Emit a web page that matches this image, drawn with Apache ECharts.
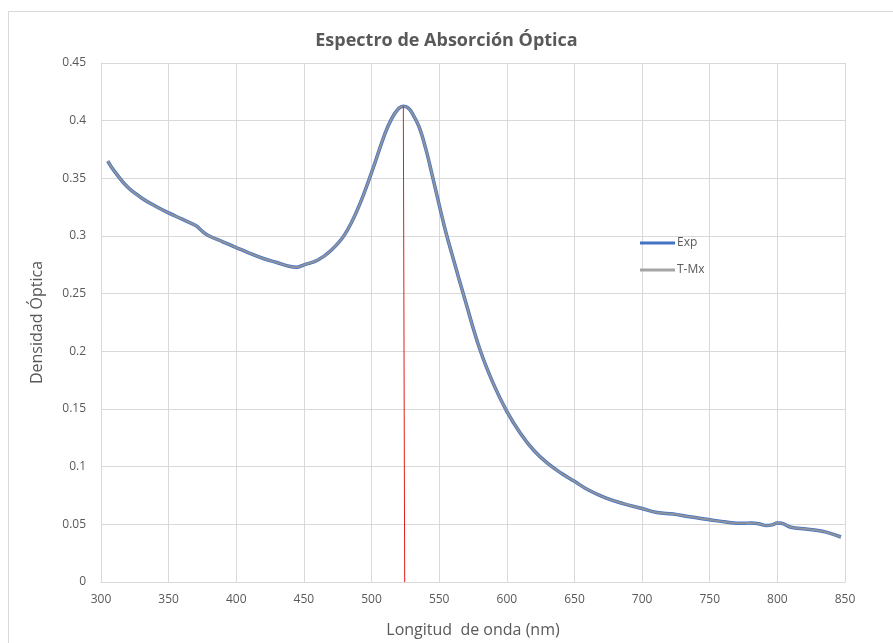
<!DOCTYPE html>
<html>
<head>
    <meta charset="utf-8">
    <title>Espectro de Absorción Óptica</title>
    <script src="https://cdn.jsdelivr.net/npm/echarts@6/dist/echarts.min.js"></script>
</head>
<body style="margin:0;">
    <div id="chart" style="width: 893px; height: 643px;"></div>
    <script type="text/javascript">
        // longitud de onda (nm) y densidad óptica
        var wavelengths = [305, 310, 320, 330, 340, 350, 360, 370, 375, 380, 390, 400, 410, 420, 430, 440, 445, 450, 460, 470,
            480, 490, 500, 510, 515, 520, 523.5, 527, 530, 535, 540, 545, 550, 555, 560, 570,
            580, 590, 600, 610, 620, 630, 640, 650, 660, 673, 686, 700, 711, 723, 735, 750, 762,
            774, 781, 786, 792, 796, 800, 803, 810, 821, 830, 836, 847];
        var expValues = [0.365, 0.356, 0.342, 0.333, 0.326, 0.320, 0.3146, 0.309, 0.304, 0.300, 0.295, 0.290, 0.285, 0.2805, 0.277, 0.2735, 0.273, 0.275, 0.279, 0.2875,
            0.301, 0.324, 0.355, 0.389, 0.402, 0.4105, 0.4126, 0.411, 0.4065, 0.395, 0.376, 0.352, 0.327, 0.303, 0.282, 0.241,
            0.202, 0.172, 0.148, 0.129, 0.114, 0.103, 0.0945, 0.0873, 0.080, 0.073, 0.068, 0.0637, 0.0603, 0.0589, 0.0565, 0.054, 0.052,
            0.0509, 0.0512, 0.0505, 0.0489, 0.0495, 0.0512, 0.051, 0.0475, 0.046, 0.0447, 0.0432, 0.039];
        var tmxValues = expValues.slice();
        // línea roja en el máximo
        var peakLine = [[523.5, 0.4126], [524.5, 0]];

        var toPairs = function (xs, ys) {
            var list = [];
            for (var i = 0; i < xs.length; i++) {
                list.push([xs[i], ys[i]]);
            }
            return list;
        };

        var myChart = echarts.init(document.getElementById('chart'));

        var option = {
            backgroundColor: '#ffffff',
            animation: false,
            title: {
                text: 'Espectro de Absorción Óptica',
                left: 'center',
                top: 27,
                textStyle: { fontFamily: 'Open Sans', fontSize: 18, fontWeight: 'bold', color: '#595959' }
            },
            graphic: [{
                type: 'rect',
                shape: { x: 8.5, y: 11.5, width: 900, height: 700 },
                style: { fill: 'none', stroke: '#d9d9d9', lineWidth: 1 },
                silent: true
            }],
            legend: {
                orient: 'vertical',
                left: 635,
                top: 232,
                itemWidth: 35,
                itemHeight: 3,
                itemGap: 15,
                data: [
                    { name: 'Exp', icon: 'rect', itemStyle: { color: '#4472c4' } },
                    { name: 'T-Mx', icon: 'rect', itemStyle: { color: '#a5a5a5' } }
                ],
                textStyle: { fontFamily: 'Open Sans', fontSize: 12, color: '#595959', padding: [0, 0, 0, -3] }
            },
            grid: { left: 101, right: 48, top: 63, bottom: 52 },
            xAxis: {
                type: 'value',
                min: 300,
                max: 850,
                interval: 50,
                name: 'Longitud  de onda (nm)',
                nameLocation: 'middle',
                nameGap: 40,
                nameTextStyle: { fontFamily: 'Open Sans', fontSize: 16, color: '#595959' },
                axisLine: { lineStyle: { color: '#d9d9d9', width: 1 } },
                axisTick: { show: false },
                axisLabel: { fontFamily: 'Open Sans', fontSize: 12, color: '#595959', margin: 12 },
                splitLine: { show: true, lineStyle: { color: '#d9d9d9', width: 1 } }
            },
            yAxis: {
                type: 'value',
                min: 0,
                max: 0.45,
                interval: 0.05,
                name: 'Densidad Óptica',
                nameLocation: 'middle',
                nameGap: 56,
                nameTextStyle: { fontFamily: 'Open Sans', fontSize: 16, color: '#595959' },
                axisLine: { show: true, lineStyle: { color: '#d9d9d9', width: 1 } },
                axisTick: { show: false },
                axisLabel: {
                    fontFamily: 'Open Sans', fontSize: 12, color: '#595959', margin: 15,
                    formatter: function (v) { return String(Math.round(v * 100) / 100); }
                },
                splitLine: { show: true, lineStyle: { color: '#d9d9d9', width: 1 } }
            },
            series: [
                {
                    name: 'Exp',
                    type: 'line',
                    data: toPairs(wavelengths, expValues),
                    smooth: 0.4,
                    showSymbol: false,
                    symbol: 'none',
                    color: '#4472c4',
                    lineStyle: { color: '#4472c4', width: 3.5 },
                    z: 3
                },
                {
                    name: 'T-Mx',
                    type: 'line',
                    data: toPairs(wavelengths, tmxValues),
                    smooth: 0.4,
                    showSymbol: false,
                    symbol: 'none',
                    color: '#a5a5a5',
                    lineStyle: { color: '#8f949c', width: 2 },
                    z: 4
                },
                {
                    name: 'pico',
                    type: 'line',
                    data: peakLine,
                    showSymbol: false,
                    symbol: 'none',
                    lineStyle: { color: '#e0201b', width: 1 },
                    z: 5
                }
            ]
        };

        myChart.setOption(option);
    </script>
</body>
</html>
